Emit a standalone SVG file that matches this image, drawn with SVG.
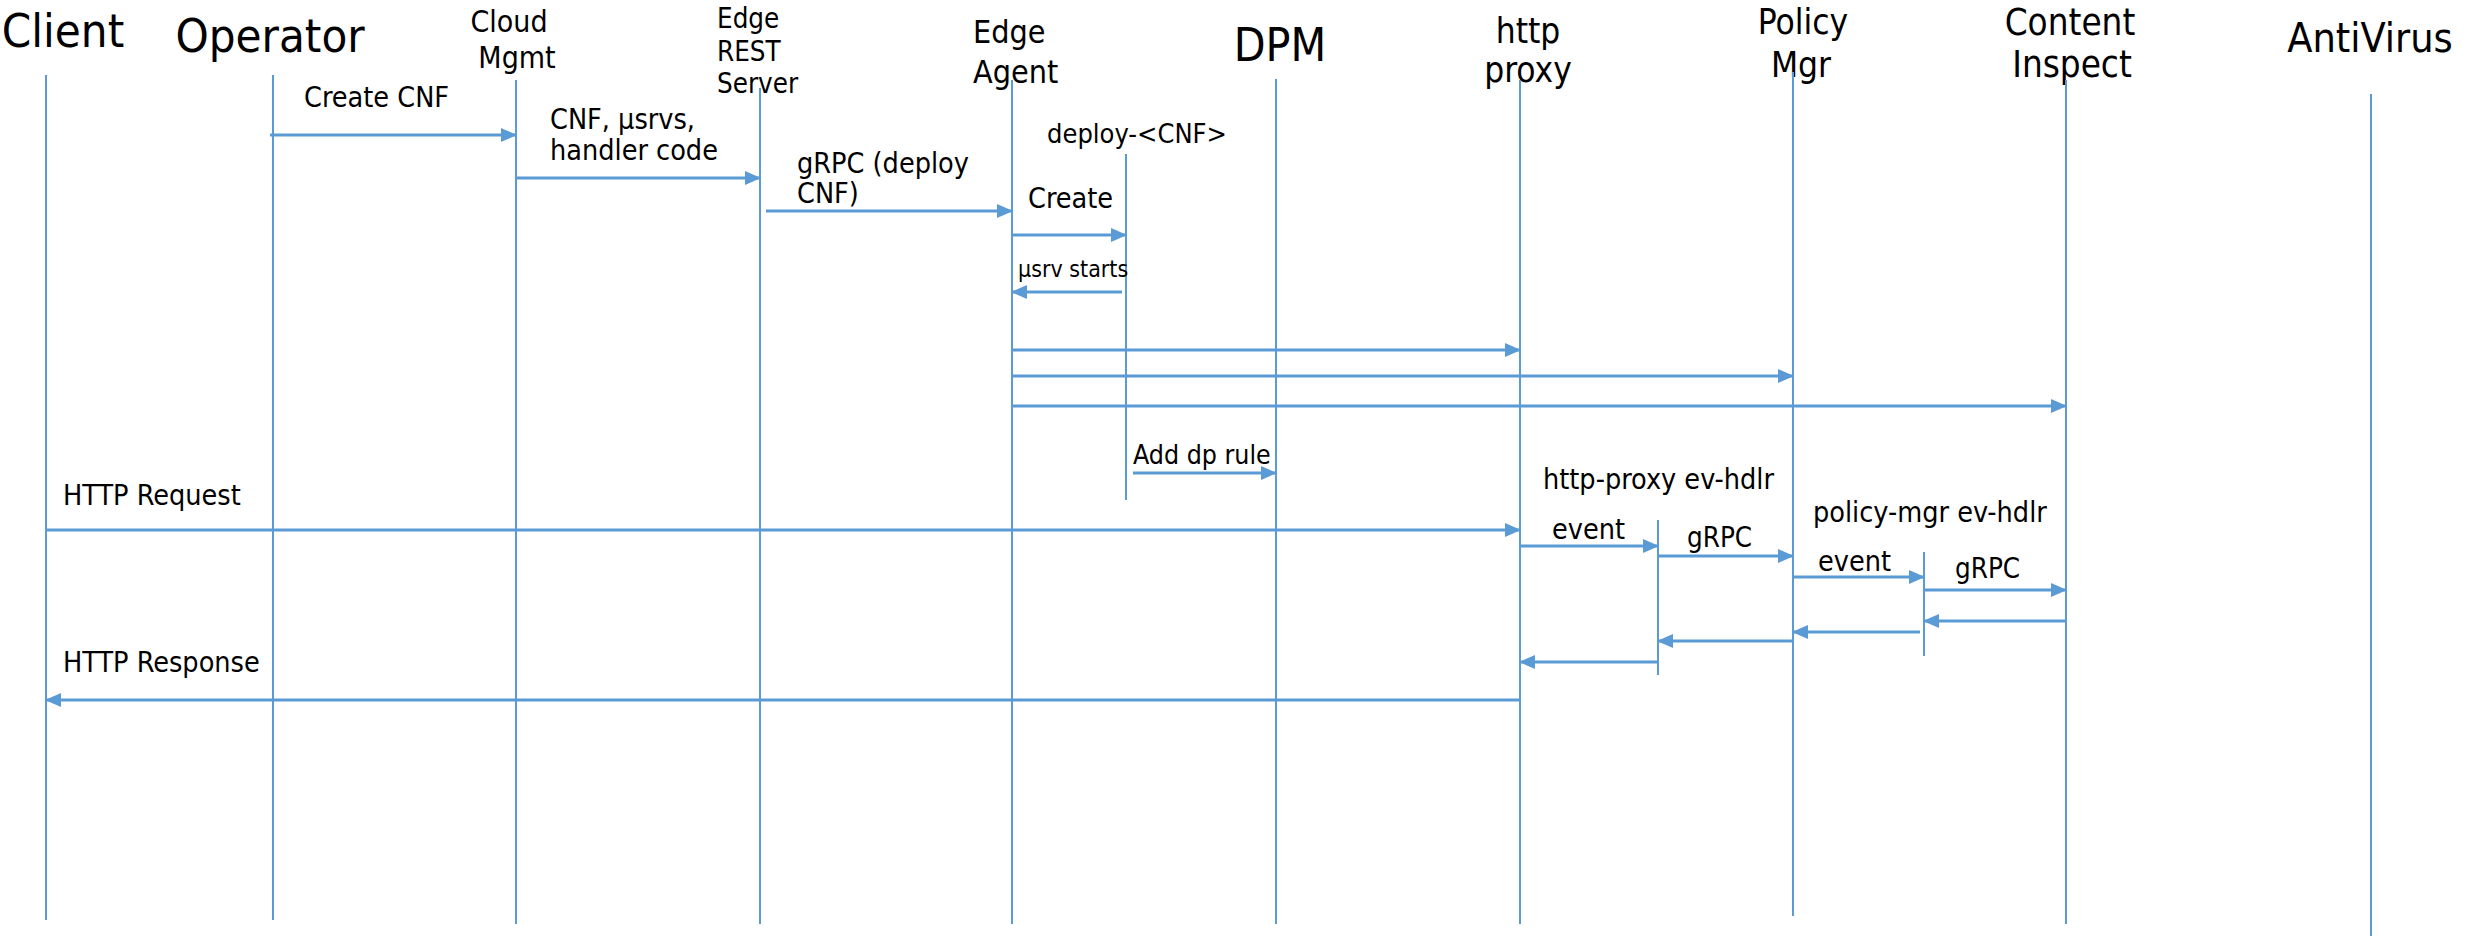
<svg xmlns="http://www.w3.org/2000/svg" width="2483" height="936" viewBox="0 0 2483 936">
<defs>
<style>
text{font-family:"DejaVu Sans Condensed","DejaVu Sans","Liberation Sans",sans-serif;font-stretch:condensed;fill:#000}
.life{stroke:#5B9BD5;stroke-width:2;fill:none}
.msg{stroke:#5B9BD5;stroke-width:3;fill:none;marker-end:url(#ah)}
.lbl{font-size:28.5px}
.c{text-anchor:middle}
</style>
<marker id="ah" markerUnits="userSpaceOnUse" markerWidth="16" markerHeight="14" refX="15" refY="7" orient="auto">
<path d="M0,0 L16,7 L0,14 z" fill="#5B9BD5"/>
</marker>
</defs>
<rect width="2483" height="936" fill="#fff"/>

<g id="client">
<text x="63" y="47" class="c" font-size="47">Client</text>
<line class="life" x1="46" y1="75" x2="46" y2="920"/>
</g>
<g id="operator">
<text x="270" y="52" class="c" font-size="47">Operator</text>
<line class="life" x1="273" y1="75" x2="273" y2="920"/>
</g>
<g id="cloud-mgmt">
<text x="509" y="32" class="c" font-size="30">Cloud</text>
<text x="517" y="68" class="c" font-size="30">Mgmt</text>
<line class="life" x1="516" y1="80" x2="516" y2="924"/>
</g>
<g id="edge-rest-server">
<text x="717" y="28" font-size="27.5">Edge</text>
<text x="717" y="61" font-size="27.5">REST</text>
<text x="717" y="93" font-size="27.5">Server</text>
<line class="life" x1="760" y1="88" x2="760" y2="924"/>
</g>
<g id="edge-agent">
<text x="973" y="43" font-size="32">Edge</text>
<text x="973" y="83" font-size="32">Agent</text>
<line class="life" x1="1012" y1="80" x2="1012" y2="924"/>
</g>
<g id="dpm">
<text x="1280" y="61" class="c" font-size="46">DPM</text>
<line class="life" x1="1276" y1="79" x2="1276" y2="924"/>
</g>
<g id="http-proxy">
<text x="1528" y="43" class="c" font-size="35">http</text>
<text x="1528" y="82" class="c" font-size="35">proxy</text>
<line class="life" x1="1520" y1="80" x2="1520" y2="924"/>
</g>
<g id="policy-mgr">
<text x="1803" y="34" class="c" font-size="35">Policy</text>
<text x="1801" y="77" class="c" font-size="35">Mgr</text>
<line class="life" x1="1793" y1="72" x2="1793" y2="916"/>
</g>
<g id="content-inspect">
<text x="2070" y="35" class="c" font-size="36.5">Content</text>
<text x="2072" y="77" class="c" font-size="36.5">Inspect</text>
<line class="life" x1="2066" y1="80" x2="2066" y2="924"/>
</g>
<g id="antivirus">
<text x="2370" y="52" class="c" font-size="41">AntiVirus</text>
<line class="life" x1="2371" y1="94" x2="2371" y2="936"/>
</g>

<g id="deploy-cnf">
<text x="1047" y="143" font-size="27">deploy-&lt;CNF&gt;</text>
<line class="life" x1="1126" y1="154" x2="1126" y2="500"/>
</g>
<g id="http-proxy-ev-hdlr">
<text x="1543" y="489" class="lbl">http-proxy ev-hdlr</text>
<line class="life" x1="1658" y1="520" x2="1658" y2="675"/>
</g>
<g id="policy-mgr-ev-hdlr">
<text x="1813" y="522" class="lbl">policy-mgr ev-hdlr</text>
<line class="life" x1="1924" y1="552" x2="1924" y2="656"/>
</g>

<g id="connectors">
<line class="msg" x1="270" y1="135" x2="516" y2="135"/>
<text x="304" y="107" class="lbl">Create CNF</text>

<line class="msg" x1="516" y1="178" x2="760" y2="178"/>
<text x="550" y="129" class="lbl">CNF, µsrvs,</text>
<text x="550" y="160" class="lbl">handler code</text>

<line class="msg" x1="766" y1="211" x2="1012" y2="211"/>
<text x="797" y="173" class="lbl">gRPC (deploy</text>
<text x="797" y="203" class="lbl">CNF)</text>

<line class="msg" x1="1012" y1="235" x2="1126" y2="235"/>
<text x="1028" y="208" class="lbl">Create</text>

<line class="msg" x1="1122" y1="292" x2="1012" y2="292"/>
<text x="1018" y="277" font-size="23">µsrv starts</text>

<line class="msg" x1="1012" y1="350" x2="1520" y2="350"/>
<line class="msg" x1="1012" y1="376" x2="1793" y2="376"/>
<line class="msg" x1="1012" y1="406" x2="2066" y2="406"/>

<line class="msg" x1="1133" y1="473" x2="1276" y2="473"/>
<text x="1133" y="464" font-size="26.5">Add dp rule</text>

<line class="msg" x1="46" y1="530" x2="1520" y2="530"/>
<text x="63" y="505" class="lbl">HTTP Request</text>

<line class="msg" x1="1520" y1="546" x2="1658" y2="546"/>
<text x="1552" y="539" class="lbl">event</text>

<line class="msg" x1="1658" y1="556" x2="1793" y2="556"/>
<text x="1687" y="547" font-size="27.5">gRPC</text>

<line class="msg" x1="1793" y1="577" x2="1924" y2="577"/>
<text x="1818" y="571" class="lbl">event</text>

<line class="msg" x1="1924" y1="590" x2="2066" y2="590"/>
<text x="1955" y="578" font-size="27.5">gRPC</text>

<line class="msg" x1="2066" y1="621" x2="1924" y2="621"/>
<line class="msg" x1="1920" y1="632" x2="1793" y2="632"/>
<line class="msg" x1="1793" y1="641" x2="1658" y2="641"/>
<line class="msg" x1="1658" y1="662" x2="1520" y2="662"/>

<line class="msg" x1="1520" y1="700" x2="46" y2="700"/>
<text x="63" y="672" class="lbl">HTTP Response</text>
</g>
</svg>
